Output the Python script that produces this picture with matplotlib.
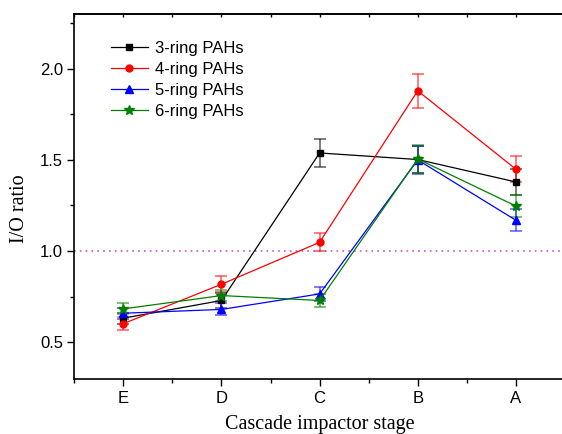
import matplotlib
matplotlib.use("Agg")
import matplotlib.pyplot as plt
from matplotlib.ticker import MultipleLocator

stages = ["E", "D", "C", "B", "A"]
series_names = ["3-ring PAHs", "4-ring PAHs", "5-ring PAHs", "6-ring PAHs"]
ring3 = [0.632, 0.729, 1.538, 1.502, 1.379]
ring3_err = [0.03, 0.04, 0.077, 0.075, 0.07]
ring4 = [0.602, 0.818, 1.048, 1.879, 1.449]
ring4_err = [0.037, 0.045, 0.05, 0.093, 0.07]
ring5 = [0.659, 0.680, 0.765, 1.500, 1.169]
ring5_err = [0.03, 0.033, 0.04, 0.075, 0.06]
ring6 = [0.683, 0.756, 0.729, 1.505, 1.247]
ring6_err = [0.03, 0.03, 0.035, 0.075, 0.06]

values = [ring3, ring4, ring5, ring6]
errors = [ring3_err, ring4_err, ring5_err, ring6_err]
colors = ["#000000", "#FF0000", "#0000FF", "#008000"]
markers = ["s", "o", "^", "*"]
msizes = [4.5, 5, 5.5, 7]

plt.rcParams['font.family'] = ['Liberation Sans', 'DejaVu Sans']

fig = plt.figure(figsize=(5.62, 4.34), dpi=100)
ax = fig.add_axes([0.1322, 0.1274, 0.873, 0.8403])

x = list(range(1, len(stages) + 1))
for vals, errs, c, m, ms, name in zip(values, errors, colors, markers, msizes, series_names):
    ax.errorbar(x, vals, yerr=errs, fmt='none', ecolor=c, alpha=0.6,
                elinewidth=1.2, capsize=4, capthick=1.2, zorder=2)
    ax.plot(x, vals, color=c, marker=m, markersize=ms, linewidth=0.9,
            label=name, zorder=3)

ax.axhline(1.0, color="#CC55CC", linestyle=(0, (1, 2.5)), linewidth=1.2, zorder=1)

ax.set_xlim(0.5, 5.5)
ax.set_ylim(0.3, 2.3)
ax.set_xticks(x)
ax.set_xticklabels(stages)
ax.xaxis.set_minor_locator(MultipleLocator(0.5))
ax.yaxis.set_major_locator(MultipleLocator(0.5))
ax.yaxis.set_minor_locator(MultipleLocator(0.25))

ax.tick_params(axis='both', which='major', direction='out', length=5, width=1,
               labelsize=12, pad=3)
ax.tick_params(axis='both', which='minor', direction='out', length=3, width=1)
ax.tick_params(axis='x', which='major', pad=4)

top = ax.secondary_xaxis('top')
top.set_xticks(x)
top.xaxis.set_minor_locator(MultipleLocator(0.5))
top.tick_params(which='both', direction='in', length=2, width=1, labeltop=False)
top.spines['top'].set_linewidth(1.2)

for sp in ax.spines.values():
    sp.set_linewidth(1.2)

ax.set_xlabel("Cascade impactor stage", family=['Liberation Serif'], fontsize=14.5, labelpad=6)
ax.set_ylabel("I/O ratio", family=['Liberation Serif'], fontsize=14.5)
ax.yaxis.set_label_coords(-0.092, 0.465)

leg = ax.legend(loc='upper left', bbox_to_anchor=(0.075, 0.926), frameon=False,
                fontsize=12, handlelength=2.2, handletextpad=0.42,
                labelspacing=0.35, borderaxespad=0, borderpad=0)

fig.savefig("out.png", dpi=100)
